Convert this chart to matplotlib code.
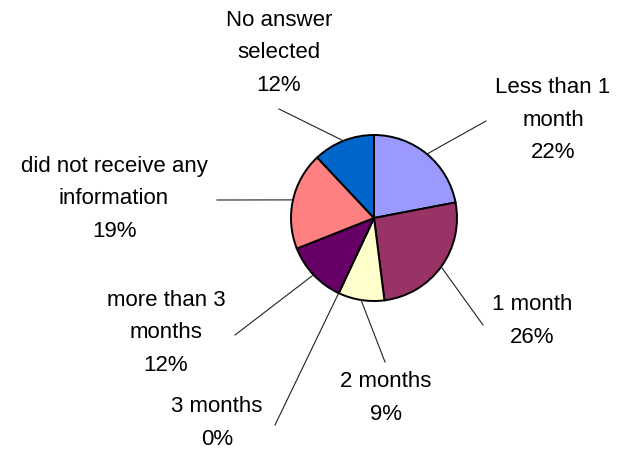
import numpy as np
import matplotlib.pyplot as plt

# chart data
labels = ["Less than 1\nmonth", "1 month", "2 months", "3 months",
          "more than 3\nmonths", "did not receive any\ninformation", "No answer\nselected"]
shares = [22, 26, 9, 0, 12, 19, 12]
colors = ["#9999FF", "#993366", "#FFFFCC", "#FFFFFF", "#660066", "#FF8080", "#0066CC"]

# layout in pixels (top-left origin), label block centres and leader-line starts
W, H = 620, 451
centre = (374, 218)
radius = 83
label_pos = [(553, 120), (532, 321), (386, 398), (217, 423), (166, 333), (114, 199), (279, 53)]
anchor_pos = [(486, 121), (483, 325), (385, 362), (275, 425), (235, 335), (217, 200), (279, 109)]

def px(p):
    return (p[0], H - p[1])

fig = plt.figure(figsize=(6.2, 4.51), dpi=100)
ax = fig.add_axes([0, 0, 1, 1])

wedges, _ = ax.pie(shares, colors=colors, startangle=90, counterclock=False,
                   center=px(centre), radius=radius,
                   wedgeprops=dict(edgecolor="black", linewidth=1.4))
ax.set_xlim(0, W)
ax.set_ylim(0, H)
ax.set_aspect("equal")
ax.axis("off")

cx, cy = px(centre)
for w, lab, v, lp, ap in zip(wedges, labels, shares, label_pos, anchor_pos):
    mid = np.deg2rad((w.theta1 + w.theta2) / 2)
    ex = cx + radius * np.cos(mid)
    ey = cy + radius * np.sin(mid)
    ax0, ay0 = px(ap)
    ax.plot([ax0, ex], [ay0, ey], color="#222222", lw=0.8)
    tx, ty = px(lp)
    ax.text(tx, ty, f"{lab}\n{v}%", ha="center", va="center", multialignment="center",
            fontsize=16, family="Liberation Sans", linespacing=1.7, color="black")

fig.savefig("out.png", dpi=100)
